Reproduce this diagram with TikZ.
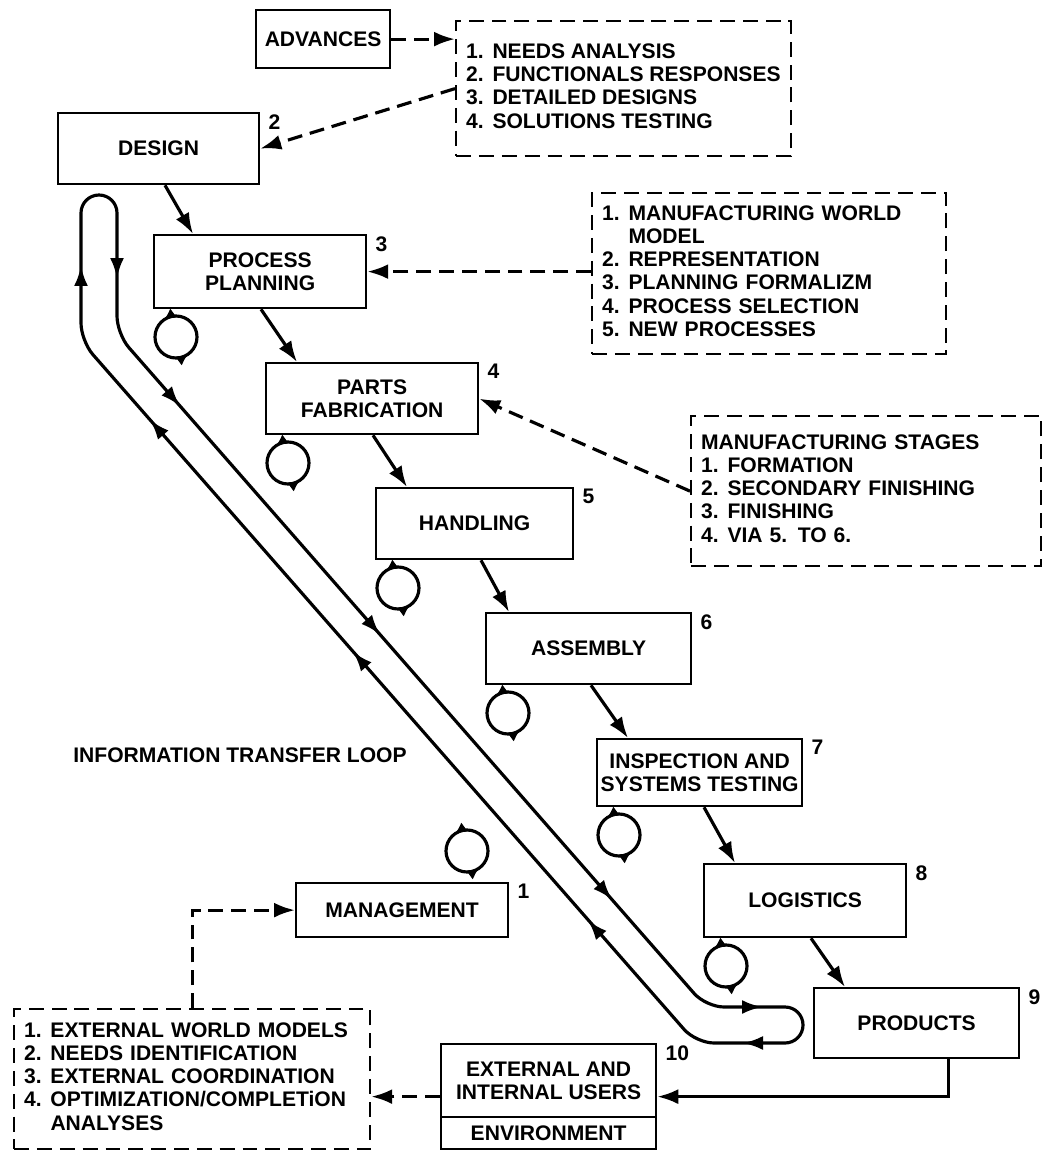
\documentclass[tikz,border=0pt]{standalone}
\usepackage{fontspec}
\setmainfont{Liberation Sans}
\usetikzlibrary{arrows.meta,calc}
\newcommand{\boxfont}{\bfseries\fontsize{12}{13.2}\selectfont}
\tikzset{
  stagebox/.style={draw, line width=1.3pt, anchor=north west, align=center, font=\boxfont, inner sep=2pt},
  listbox/.style={draw, dashed, dash pattern=on 8.5pt off 4.5pt, line width=1.3pt, anchor=north west, font=\boxfont, inner xsep=0.2cm, align=left},
  numlabel/.style={font=\boxfont, anchor=north west, inner sep=0pt},
  flowarrow/.style={-{Latex[length=4.2mm,width=3mm]}, line width=1.8pt},
  feedarrow/.style={flowarrow, dash pattern=on 8.5pt off 4.5pt},
  loopline/.style={line width=1.8pt},
  looptip/.style={-{Latex[length=4mm,width=2.8mm]}, line width=1.8pt},
  spintip/.style={-{Latex[length=2.4mm,width=2.2mm]}, line width=1.5pt},
}
% circle with two turning arrows
\newcommand{\spinmark}[2]{%
  \draw[loopline] (#1,#2) circle[radius=21];
  \draw[spintip] ([shift={(92:21)}]#1,#2) arc[start angle=92,end angle=126,radius=21];
  \draw[spintip] ([shift={(-88:21)}]#1,#2) arc[start angle=-88,end angle=-54,radius=21];
}
\begin{document}
\begin{tikzpicture}[x=0.02cm,y=0.02cm]
  \useasboundingbox (0,0) rectangle (1052,-1151);
  % Stages
  \node[stagebox, minimum width=2.68cm, minimum height=1.16cm] (adv) at (255,-9) {ADVANCES};
  \node[stagebox, minimum width=4.02cm, minimum height=1.42cm] (design) at (57,-112) {DESIGN};
  \node[stagebox, minimum width=4.24cm, minimum height=1.46cm] (planning) at (153,-234) {PROCESS\\PLANNING};
  \node[stagebox, minimum width=4.24cm, minimum height=1.42cm] (fab) at (265,-362) {PARTS\\FABRICATION};
  \node[stagebox, minimum width=3.94cm, minimum height=1.42cm] (handling) at (375,-487) {HANDLING};
  \node[stagebox, minimum width=4.10cm, minimum height=1.42cm] (assembly) at (485,-612) {ASSEMBLY};
  \node[stagebox, minimum width=3.78cm, minimum height=1.34cm] (inspection) at (596,-738) {INSPECTION AND\\SYSTEMS TESTING};
  \node[stagebox, minimum width=4.04cm, minimum height=1.46cm] (logistics) at (703,-863) {LOGISTICS};
  \node[stagebox, minimum width=4.10cm, minimum height=1.40cm] (products) at (813,-987) {PRODUCTS};
  \node[stagebox, minimum width=4.24cm, minimum height=1.08cm] (management) at (295,-882) {MANAGEMENT};
  \node[stagebox, minimum width=4.30cm, minimum height=1.46cm] (users) at (440,-1043) {EXTERNAL AND\\INTERNAL USERS};
  \node[stagebox, minimum width=4.30cm, minimum height=0.64cm] (env) at (440,-1116) {ENVIRONMENT};
  % Numbers
  \node[numlabel] (num1) at ($(management.north east)+(8,-2)$) {1};
  \node[numlabel] (num2) at ($(design.north east)+(8,-2)$) {2};
  \node[numlabel] (num3) at ($(planning.north east)+(8,-2)$) {3};
  \node[numlabel] (num4) at ($(fab.north east)+(8,-2)$) {4};
  \node[numlabel] (num5) at ($(handling.north east)+(8,-2)$) {5};
  \node[numlabel] (num6) at ($(assembly.north east)+(8,-2)$) {6};
  \node[numlabel] (num7) at ($(inspection.north east)+(8,-2)$) {7};
  \node[numlabel] (num8) at ($(logistics.north east)+(8,-2)$) {8};
  \node[numlabel] (num9) at ($(products.north east)+(8,-2)$) {9};
  \node[numlabel] (num10) at ($(users.north east)+(8,-2)$) {10};
  % Lists
  \node[listbox, minimum height=2.7cm] (needs) at (455,-20) {%
    \begin{tabular}{@{}l@{\hspace{5pt}}l@{}}
      1. & NEEDS ANALYSIS\\
      2. & FUNCTIONALS RESPONSES\\
      3. & DETAILED DESIGNS\\
      4. & SOLUTIONS TESTING
    \end{tabular}};
  \node[listbox, text width=6.68cm, minimum height=3.22cm] (mfg) at (591,-192) {%
    \begin{tabular}{@{}l@{\hspace{5pt}}l@{}}
      1. & MANUFACTURING WORLD\\
         & MODEL\\
      2. & REPRESENTATION\\
      3. & PLANNING FORMALIZM\\
      4. & PROCESS SELECTION\\
      5. & NEW PROCESSES
    \end{tabular}};
  \node[listbox, text width=6.6cm, minimum height=3.0cm] (stages) at (690,-415) {%
    \begin{tabular}{@{}l@{\hspace{5pt}}l@{}}
      \multicolumn{2}{@{}l@{}}{MANUFACTURING STAGES}\\
      1. & FORMATION\\
      2. & SECONDARY FINISHING\\
      3. & FINISHING\\
      4. & VIA 5. TO 6.
    \end{tabular}};
  \node[listbox, text width=6.72cm, minimum height=2.8cm] (ext) at (13,-1008) {%
    \begin{tabular}{@{}l@{\hspace{5pt}}l@{}}
      1. & EXTERNAL WORLD MODELS\\
      2. & NEEDS IDENTIFICATION\\
      3. & EXTERNAL COORDINATION\\
      4. & OPTIMIZATION/COMPLETiON\\
         & ANALYSES
    \end{tabular}};
  % Flow between stages
  \draw[flowarrow] ($(design.south west)+(108,0)$) -- ($(planning.north west)+(40,0)$);
  \draw[flowarrow] ($(planning.south west)+(108,0)$) -- ($(fab.north west)+(32,0)$);
  \draw[flowarrow] ($(fab.south west)+(108,0)$) -- ($(handling.north west)+(32,0)$);
  \draw[flowarrow] ($(handling.south west)+(106,0)$) -- ($(assembly.north west)+(24,0)$);
  \draw[flowarrow] ($(assembly.south west)+(106,0)$) -- ($(inspection.north west)+(32,0)$);
  \draw[flowarrow] ($(inspection.south west)+(108,0)$) -- ($(logistics.north west)+(32,0)$);
  \draw[flowarrow] ($(logistics.south west)+(108,0)$) -- ($(products.north west)+(32,0)$);
  \coordinate (usersin) at ($(users.north east)!0.5!(env.south east)$);
  \coordinate (usersout) at ($(users.north west)!0.5!(env.south west)$);
  \draw[flowarrow] ($(products.south)+(32,0)$) |- (usersin);
  % Dashed links
  \draw[feedarrow] (adv.east) -- (adv.east -| needs.west);
  \draw[feedarrow] (needs.west) -- (design.east);
  \draw[feedarrow] (mfg.west |- planning.east) -- (planning.east);
  \draw[feedarrow] (stages.west) -- (fab.east);
  \draw[feedarrow] (usersout) -- (usersout -| ext.east);
  \draw[feedarrow] (ext.north) |- (management.west);
  % Information transfer loop
  \draw[loopline, rounded corners=0.36cm] (117,-260) -- (117,-334) -- (706,-1007) -- (803,-1007)
    -- (803,-1043) -- (696,-1043) -- (81,-341) -- (81,-195) -- (117,-195) -- (117,-260);
  \draw[looptip] (117,-258) -- (117,-278);
  \draw[looptip] (81,-286) -- (81,-266);
  \draw[looptip] (166.8,-390.9) -- (180,-406);
  \draw[looptip] (366.8,-619.4) -- (380,-634.5);
  \draw[looptip] (598.8,-884.5) -- (612,-899.6);
  \draw[looptip] (163.2,-435) -- (150,-419.9);
  \draw[looptip] (366.2,-666.8) -- (353,-651.7);
  \draw[looptip] (601.2,-935.4) -- (588,-920.3);
  \draw[looptip] (742,-1007) -- (762,-1007);
  \draw[looptip] (763,-1043) -- (743,-1043);
  \node[font=\boxfont] (looplabel) at (240,-755) {INFORMATION TRANSFER LOOP};
  % Turning circles
  \spinmark{176}{-337}
  \spinmark{288}{-463}
  \spinmark{398}{-588}
  \spinmark{508}{-713}
  \spinmark{619}{-835}
  \spinmark{726}{-966}
  \spinmark{467}{-851}
\end{tikzpicture}
\end{document}
